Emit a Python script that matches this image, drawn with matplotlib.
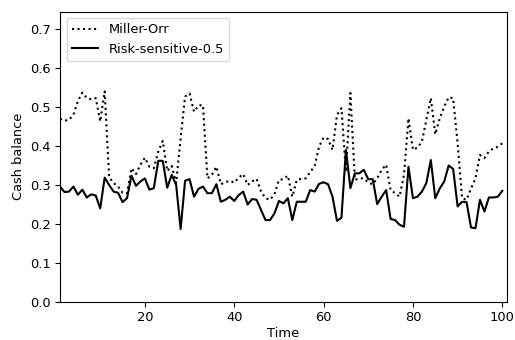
import numpy as np
import matplotlib
matplotlib.use("Agg")
import matplotlib.pyplot as plt

plt.rcParams['font.size'] = 9.4

# time steps
time = np.arange(1, 101)

# Miller-Orr policy cash balance
miller_orr = [0.47, 0.465, 0.467, 0.48, 0.515, 0.537, 0.523, 0.52, 0.523, 0.463,
              0.54, 0.32, 0.305, 0.296, 0.28, 0.279, 0.343, 0.328, 0.352, 0.37,
              0.347, 0.343, 0.386, 0.413, 0.336, 0.349, 0.305, 0.42, 0.527, 0.535,
              0.488, 0.504, 0.505, 0.317, 0.326, 0.347, 0.302, 0.307, 0.311, 0.306,
              0.319, 0.328, 0.300, 0.309, 0.316, 0.283, 0.266, 0.262, 0.276, 0.313,
              0.315, 0.324, 0.27, 0.313, 0.316, 0.317, 0.333, 0.349, 0.399, 0.422,
              0.418, 0.39, 0.48, 0.497, 0.334, 0.536, 0.313, 0.317, 0.317, 0.306,
              0.302, 0.317, 0.339, 0.352, 0.287, 0.279, 0.27, 0.326, 0.471, 0.39,
              0.396, 0.411, 0.467, 0.523, 0.43, 0.471, 0.501, 0.525, 0.523, 0.407,
              0.266, 0.262, 0.291, 0.317, 0.377, 0.369, 0.386, 0.394, 0.398, 0.407]

# risk-sensitive policy (0.5)
risk_sensitive = [0.296, 0.282, 0.283, 0.296, 0.275, 0.288, 0.268, 0.276, 0.273, 0.24,
                  0.319, 0.3, 0.283, 0.28, 0.256, 0.266, 0.324, 0.298, 0.309, 0.317,
                  0.288, 0.292, 0.362, 0.362, 0.293, 0.326, 0.3, 0.187, 0.311, 0.315,
                  0.27, 0.29, 0.296, 0.279, 0.279, 0.302, 0.257, 0.262, 0.27, 0.259,
                  0.274, 0.283, 0.25, 0.264, 0.262, 0.236, 0.21, 0.21, 0.227, 0.259,
                  0.253, 0.266, 0.21, 0.257, 0.257, 0.257, 0.287, 0.283, 0.303, 0.307,
                  0.302, 0.27, 0.208, 0.216, 0.39, 0.292, 0.33, 0.33, 0.339, 0.315,
                  0.315, 0.251, 0.27, 0.287, 0.213, 0.21, 0.198, 0.193, 0.347, 0.266,
                  0.27, 0.283, 0.305, 0.364, 0.266, 0.291, 0.309, 0.35, 0.341, 0.245,
                  0.257, 0.256, 0.191, 0.189, 0.262, 0.232, 0.268, 0.268, 0.27, 0.285]

fig = plt.figure(figsize=(5.15, 3.4), dpi=100)
ax = fig.add_subplot(111)
fig.subplots_adjust(left=0.1165, right=0.984, bottom=0.112, top=0.966)

ax.plot(time, miller_orr, 'k:', linewidth=1.5, label='Miller-Orr')
ax.plot(time, risk_sensitive, 'k-', linewidth=1.5, label='Risk-sensitive-0.5')

ax.set_xlim(1, 101)
ax.set_ylim(0, 0.745)
ax.set_yticks(np.arange(0, 0.71, 0.1))
ax.tick_params(pad=3)
ax.set_xlabel('Time', labelpad=2)
ax.set_ylabel('Cash balance', labelpad=4)
ax.legend(loc='upper left')

fig.savefig('out.png', dpi=100)
